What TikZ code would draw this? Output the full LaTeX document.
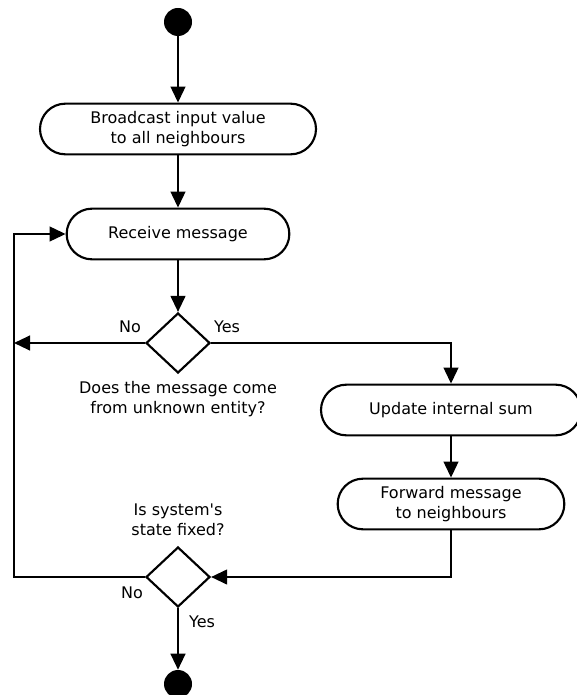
\documentclass[tikz,border=0pt]{standalone}
\usepackage{fontspec}
\setmainfont{DejaVu Sans}
\usetikzlibrary{shapes.geometric,arrows.meta}
\begin{document}
\begin{tikzpicture}[x=0.75pt,y=-0.75pt,
  every node/.style={font=\fontsize{12pt}{15pt}\selectfont},
  dot/.style={circle,fill=black,inner sep=0,minimum size=21pt},
  act/.style={rectangle,draw,line width=1.6pt,rounded corners=19pt,align=center,minimum height=38pt,inner sep=0},
  dec/.style={diamond,draw,line width=1.6pt,inner sep=0,minimum width=48pt,minimum height=45pt},
  lbl/.style={align=center,inner sep=0},
  arr/.style={line width=1.6pt,-{Triangle[length=12pt,width=11pt]}},
  ln/.style={line width=1.6pt}]
\useasboundingbox (0,0) rectangle (577,695);
\node[dot] (start) at (178,22) {};
\node[act,minimum width=207pt] (bc) at (178,129) {Broadcast input value\\to all neighbours};
\node[act,minimum width=167pt] (recv) at (178,234) {Receive message};
\node[dec] (d1) at (178,343) {};
\node[lbl] (no1) at (130,327) {No};
\node[lbl] (yes1) at (227,327) {Yes};
\node[lbl] (q1) at (178,399) {Does the message come\\from unknown entity?};
\node[act,minimum width=195pt] (upd) at (451,410) {Update internal sum};
\node[act,minimum width=170pt] (fwd) at (451,504) {Forward message\\to neighbours};
\node[dec] (d2) at (178,577) {};
\node[lbl] (q2) at (178,520) {Is system\textquotesingle s\\state fixed?};
\node[lbl] (no2) at (132,593) {No};
\node[lbl] (yes2) at (202,622) {Yes};
\node[dot] (end) at (178,684) {};
\coordinate (nol) at (14,343);
\coordinate (lb) at (14,577);
\coordinate (lt) at (14,234);
\draw[arr] (start) -- (bc);
\draw[arr] (bc) -- (recv);
\draw[arr] (recv) -- (d1);
\draw[arr] (d1.west) -- (nol);
\draw[arr] (d1.east) -| (upd.north);
\draw[arr] (upd) -- (fwd);
\draw[arr] (fwd.south) |- (d2.east);
\draw[arr] (d2.west) -- (lb) -- (lt) -- (recv.west);
\draw[arr] (d2.south) -- (end);
\end{tikzpicture}
\end{document}
